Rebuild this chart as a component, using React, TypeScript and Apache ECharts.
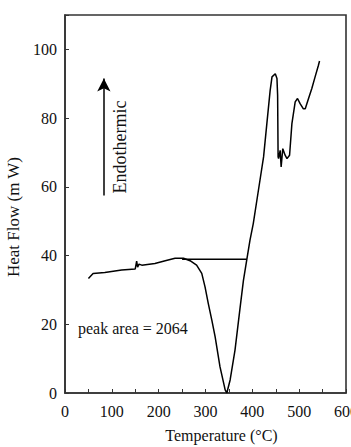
import React, { useEffect, useRef } from "react";
import * as echarts from "echarts";

const temperatures = [50, 60, 85, 121, 150, 153, 155, 158, 164, 192, 214, 235, 253, 267, 281, 292, 299, 306, 313.5, 320.5, 331, 342, 345.5, 352.6, 363, 374, 381, 388, 395, 402, 413, 424, 431, 438, 442, 449, 452.6, 454, 455, 456, 459.4, 461.5, 465, 470, 474, 479.5, 484.5, 491.5, 496.5, 502, 509, 513, 520, 527, 534, 541, 543.5];
const heatFlow = [33.3, 34.8, 35.1, 35.8, 36.1, 38.4, 36.6, 37.5, 37.2, 37.7, 38.5, 39.2, 39.2, 38.5, 37.2, 34.8, 30.9, 26, 21.2, 16.4, 7.6, 0.9, 0, 3.8, 12.5, 25, 32.8, 38.7, 44.5, 49.3, 59, 68.7, 78.4, 88, 92, 92.9, 91.5, 86.6, 68.7, 68.2, 70.6, 65.8, 71.1, 69.2, 68.2, 69.2, 78.4, 84.7, 85.7, 84.2, 82.7, 82.7, 85.7, 88.6, 92, 95.3, 96.6];
const baselineTemps = [250, 388];
const baselineValues = [38.9, 38.9];
const arrowTemp = 83;
const arrowFrom = 57.5;
const arrowTo = 91.5;
const xTicks = [0, 100, 200, 300, 400, 500, 600];
const yTicks = [0, 20, 40, 60, 80, 100];
const peakLabel = "peak area = 2064";
const arrowLabel = "Endothermic";

const FONT = "'Liberation Serif', 'Times New Roman', serif";

export default function App() {
  const ref = useRef<HTMLDivElement>(null);
  useEffect(() => {
    if (!ref.current) return;
    const chart = echarts.init(ref.current, null, { renderer: "svg" });
    chart.setOption({
      animation: false,
      backgroundColor: "#ffffff",
      grid: {
        left: 65,
        top: 15,
        right: 5,
        bottom: 54,
        show: true,
        borderColor: "#333",
        borderWidth: 1.6,
        outerBoundsMode: "none",
      },
      xAxis: {
        type: "value",
        min: 0,
        max: 600,
        interval: 50,
        name: "Temperature (°C)",
        nameLocation: "middle",
        nameGap: 34,
        nameTextStyle: { fontFamily: FONT, fontSize: 16, color: "#111", padding: [0, 0, 0, 32] },
        axisLine: { show: true, lineStyle: { color: "#333", width: 1.6 } },
        axisTick: { show: true, inside: true, length: 4, lineStyle: { color: "#333" } },
        axisLabel: {
          fontFamily: FONT,
          fontSize: 16,
          color: "#111",
          margin: 10,
          alignMaxLabel: "center",
          hideOverlap: false,
          formatter: (v: number) => (xTicks.includes(v) ? String(v) : ""),
        },
        splitLine: { show: false },
      },
      yAxis: {
        type: "value",
        min: 0,
        max: 110,
        interval: 20,
        name: "Heat Flow (m W)",
        nameLocation: "middle",
        nameGap: 38,
        nameTextStyle: { fontFamily: FONT, fontSize: 17, color: "#111", padding: [0, 26, 0, 0] },
        axisLine: { show: true, lineStyle: { color: "#333", width: 1.6 } },
        axisTick: { show: true, inside: true, length: 4, lineStyle: { color: "#333" } },
        axisLabel: {
          fontFamily: FONT,
          fontSize: 16,
          color: "#111",
          margin: 8,
          formatter: (v: number) => (yTicks.includes(v) ? String(v) : ""),
        },
        splitLine: { show: false },
      },
      series: [
        {
          type: "line",
          data: temperatures.map((t, i) => [t, heatFlow[i]]),
          showSymbol: false,
          symbol: "none",
          lineStyle: { color: "#000", width: 1.5 },
          markLine: {
            silent: true,
            symbol: ["none", "arrow"],
            symbolSize: [10, 13],
            label: { show: false },
            lineStyle: { color: "#000", width: 1.5, type: "solid" },
            data: [[{ coord: [arrowTemp, arrowFrom] }, { coord: [arrowTemp, arrowTo] }]],
          },
        },
        {
          type: "line",
          data: baselineTemps.map((t, i) => [t, baselineValues[i]]),
          showSymbol: false,
          symbol: "none",
          lineStyle: { color: "#000", width: 1.5 },
        },
      ],
      graphic: [
        {
          type: "text",
          x: 120,
          y: 147,
          rotation: Math.PI / 2,
          style: {
            text: arrowLabel,
            fontFamily: FONT,
            fontSize: 18,
            fill: "#111",
            textAlign: "center",
            textVerticalAlign: "middle",
          },
        },
        {
          type: "text",
          x: 78,
          y: 328,
          style: {
            text: peakLabel,
            fontFamily: FONT,
            fontSize: 16,
            fill: "#111",
            textAlign: "left",
            textVerticalAlign: "middle",
          },
        },
      ],
    });
    return () => chart.dispose();
  }, []);
  return (
    <div
      ref={ref}
      style={{ position: "fixed", left: 0, top: 0, width: 351, height: 447, background: "#fff" }}
    />
  );
}
